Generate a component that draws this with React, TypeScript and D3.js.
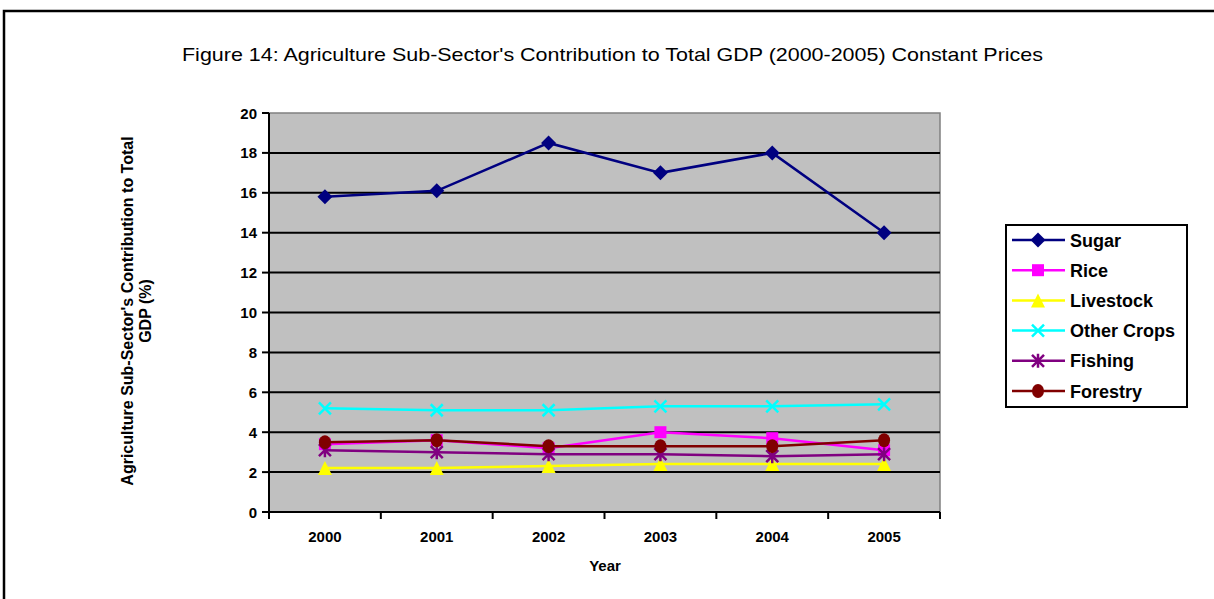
import React from "react";
import * as d3 from "d3";

const years = ["2000", "2001", "2002", "2003", "2004", "2005"];
const sugar = [15.8, 16.1, 18.5, 17.0, 18.0, 14.0];
const rice = [3.4, 3.6, 3.2, 4.0, 3.7, 3.1];
const livestock = [2.2, 2.2, 2.3, 2.4, 2.4, 2.4];
const otherCrops = [5.2, 5.1, 5.1, 5.3, 5.3, 5.4];
const fishing = [3.1, 3.0, 2.9, 2.9, 2.8, 2.9];
const forestry = [3.5, 3.6, 3.3, 3.3, 3.3, 3.6];
const yTicks = [0, 2, 4, 6, 8, 10, 12, 14, 16, 18, 20];

const seriesNames = ["Sugar", "Rice", "Livestock", "Other Crops", "Fishing", "Forestry"];
const seriesColors = ["#000080", "#FF00FF", "#FFFF00", "#00FFFF", "#800080", "#800000"];
const seriesShapes = ["diamond", "square", "triangle", "x", "star", "circle"];
const seriesValues = [sugar, rice, livestock, otherCrops, fishing, forestry];

const W = 1214;
const H = 599;
const plot = { left: 269, right: 940, top: 113, bottom: 512 };
const font = "'Liberation Sans', Arial, sans-serif";

function Marker({ shape, x, y, color }: { shape: string; x: number; y: number; color: string }) {
  if (shape === "diamond") {
    const s = 7.5;
    return <path d={`M${x},${y - s}L${x + s},${y}L${x},${y + s}L${x - s},${y}Z`} fill={color} />;
  }
  if (shape === "square") {
    const s = 6;
    return <rect x={x - s} y={y - s} width={2 * s} height={2 * s} fill={color} />;
  }
  if (shape === "triangle") {
    const s = 7;
    return <path d={`M${x},${y - s}L${x + s},${y + s}L${x - s},${y + s}Z`} fill={color} />;
  }
  if (shape === "x") {
    const s = 6;
    return (
      <path d={`M${x - s},${y - s}L${x + s},${y + s}M${x - s},${y + s}L${x + s},${y - s}`} stroke={color} strokeWidth={2.5} />
    );
  }
  if (shape === "star") {
    const s = 6;
    return (
      <path
        d={`M${x - s},${y - s}L${x + s},${y + s}M${x - s},${y + s}L${x + s},${y - s}M${x},${y - s - 1}L${x},${y + s + 1}`}
        stroke={color}
        strokeWidth={2.5}
      />
    );
  }
  return <ellipse cx={x} cy={y} rx={6} ry={7} fill={color} />;
}

export default function App() {
  const x = d3.scaleBand<string>().domain(years).range([plot.left, plot.right]);
  const y = d3.scaleLinear().domain([0, 20]).range([plot.bottom, plot.top]);
  const cx = (d: string) => (x(d) as number) + x.bandwidth() / 2;
  const line = d3
    .line<number>()
    .x((_, i) => cx(years[i]))
    .y((v) => y(v));
  const boundaries = years.map((d) => x(d) as number).concat([plot.right]);

  const legend = { x: 1006, y: 225, w: 181, h: 182 };
  const legendStep = 30.2;

  return (
    <svg width={W} height={H} style={{ position: "absolute", left: 0, top: 0 }} fontFamily={font}>
      <rect x={0} y={0} width={W} height={H} fill="#fff" />
      <rect x={4} y={11} width={W + 20} height={H + 20} fill="none" stroke="#000" strokeWidth={2.5} />
      <text x={182} y={61} fontSize={19} fill="#000" textLength={861} lengthAdjust="spacingAndGlyphs">
        Figure 14: Agriculture Sub-Sector's Contribution to Total GDP (2000-2005) Constant Prices
      </text>
      <rect x={plot.left} y={plot.top} width={plot.right - plot.left} height={plot.bottom - plot.top} fill="#C0C0C0" stroke="#808080" strokeWidth={1.5} />
      {yTicks.map((t) => (
        <g key={t}>
          {t > 0 && t < 20 && (
            <line x1={plot.left} x2={plot.right} y1={y(t)} y2={y(t)} stroke="#000" strokeWidth={2} />
          )}
          <line x1={plot.left - 7} x2={plot.left} y1={y(t)} y2={y(t)} stroke="#000" strokeWidth={2} />
          <text x={plot.left - 12} y={y(t) + 5.5} textAnchor="end" fontSize={15} fontWeight="bold">
            {t}
          </text>
        </g>
      ))}
      <line x1={plot.left} x2={plot.left} y1={plot.top} y2={plot.bottom} stroke="#000" strokeWidth={2} />
      <line x1={plot.left} x2={plot.right} y1={plot.bottom} y2={plot.bottom} stroke="#000" strokeWidth={2} />
      {boundaries.map((b, i) => (
        <line key={i} x1={b} x2={b} y1={plot.bottom} y2={plot.bottom + 7} stroke="#000" strokeWidth={2} />
      ))}
      {years.map((d) => (
        <text key={d} x={cx(d)} y={542} textAnchor="middle" fontSize={15} fontWeight="bold">
          {d}
        </text>
      ))}
      <text x={605} y={571} textAnchor="middle" fontSize={15} fontWeight="bold">
        Year
      </text>
      <g transform="translate(133,311) rotate(-90)">
        <text x={0} y={0} textAnchor="middle" fontSize={16} fontWeight="bold">
          Agriculture Sub-Sector's Contribution to Total
        </text>
        <text x={0} y={18} textAnchor="middle" fontSize={16} fontWeight="bold">
          GDP (%)
        </text>
      </g>
      {seriesValues.map((vals, si) => (
        <g key={seriesNames[si]}>
          <path d={line(vals) as string} fill="none" stroke={seriesColors[si]} strokeWidth={2.5} />
          {vals.map((v, i) => (
            <Marker key={i} shape={seriesShapes[si]} x={cx(years[i])} y={y(v)} color={seriesColors[si]} />
          ))}
        </g>
      ))}
      <rect x={legend.x} y={legend.y} width={legend.w} height={legend.h} fill="#fff" stroke="#000" strokeWidth={2} />
      {seriesNames.map((n, i) => {
        const ly = legend.y + 15 + i * legendStep;
        return (
          <g key={n}>
            <line x1={legend.x + 6} x2={legend.x + 59} y1={ly} y2={ly} stroke={seriesColors[i]} strokeWidth={2.5} />
            <Marker shape={seriesShapes[i]} x={legend.x + 32} y={ly} color={seriesColors[i]} />
            <text x={legend.x + 64} y={ly + 6.5} fontSize={18} fontWeight="bold">
              {n}
            </text>
          </g>
        );
      })}
    </svg>
  );
}
